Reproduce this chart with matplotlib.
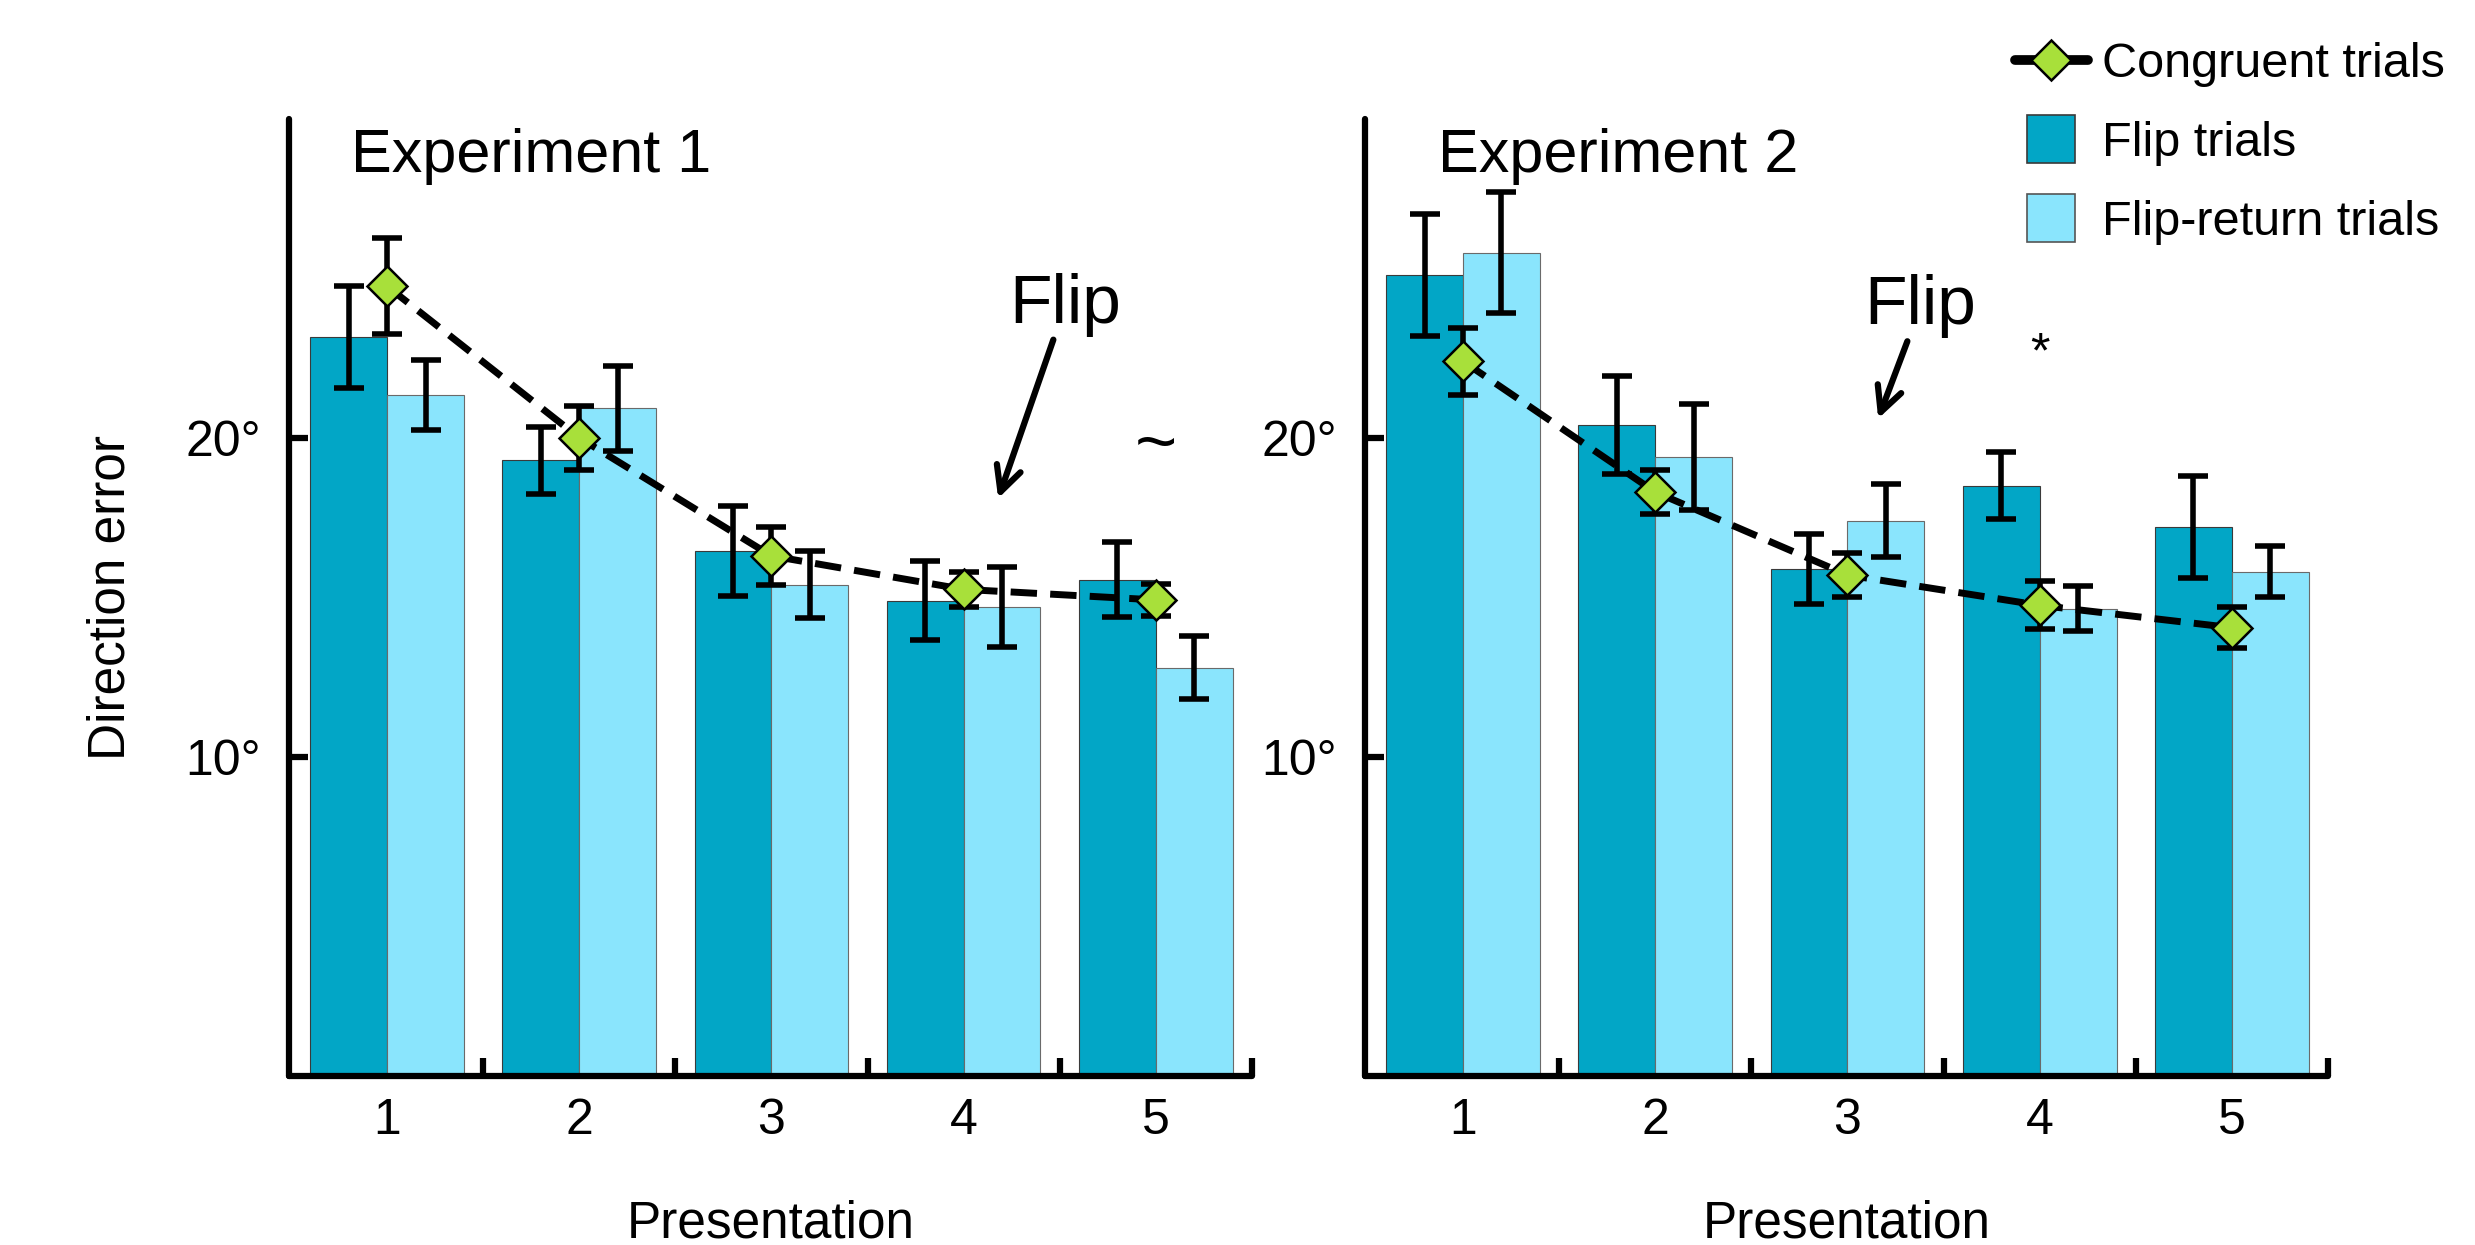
import numpy as np
import matplotlib
matplotlib.use("Agg")
import matplotlib.pyplot as plt
from matplotlib.lines import Line2D

plt.rcParams['font.family'] = ['Liberation Sans', 'DejaVu Sans']

presentation = [1, 2, 3, 4, 5]

# Experiment 1
exp1_flip = [23.15, 19.3, 16.45, 14.9, 15.55]
exp1_flip_err = [1.6, 1.05, 1.4, 1.25, 1.17]
exp1_return = [21.34, 20.92, 15.4, 14.7, 12.8]
exp1_return_err = [1.1, 1.34, 1.05, 1.25, 1.0]
exp1_congruent = [24.75, 20.0, 16.3, 15.25, 14.92]
exp1_congruent_err = [1.5, 1.0, 0.9, 0.55, 0.5]

# Experiment 2
exp2_flip = [25.1, 20.4, 15.9, 18.5, 17.2]
exp2_flip_err = [1.9, 1.55, 1.1, 1.05, 1.6]
exp2_return = [25.8, 19.4, 17.4, 14.65, 15.8]
exp2_return_err = [1.9, 1.65, 1.15, 0.7, 0.8]
exp2_congruent = [22.4, 18.3, 15.7, 14.75, 14.05]
exp2_congruent_err = [1.05, 0.7, 0.7, 0.75, 0.65]

dark = '#02a6c6'
light = '#8ae5fd'
green = '#a8e03a'
w = 0.4
elw = 4.0

fig = plt.figure(figsize=(24.75, 12.45), dpi=100)
ax1 = fig.add_axes([0.1168, 0.1357, 0.3890, 0.769])
ax2 = fig.add_axes([0.5515, 0.1357, 0.3891, 0.769])

panels = [
    (ax1, exp1_flip, exp1_flip_err, exp1_return, exp1_return_err, exp1_congruent, exp1_congruent_err, "Experiment 1"),
    (ax2, exp2_flip, exp2_flip_err, exp2_return, exp2_return_err, exp2_congruent, exp2_congruent_err, "Experiment 2"),
]

x = np.array(presentation)
for ax, fl, fle, rt, rte, cg, cge, title in panels:
    ax.bar(x - w / 2, fl, w, color=dark, edgecolor='#3a3a3a', linewidth=0.8, zorder=1)
    ax.bar(x + w / 2, rt, w, color=light, edgecolor='#6a6a6a', linewidth=0.8, zorder=1)
    ax.errorbar(x - w / 2, fl, yerr=fle, fmt='none', ecolor='black', elinewidth=elw, capsize=11, capthick=elw, zorder=2)
    ax.errorbar(x + w / 2, rt, yerr=rte, fmt='none', ecolor='black', elinewidth=elw, capsize=11, capthick=elw, zorder=2)
    ax.plot(x, cg, color='black', lw=5.0, dashes=(3.8, 1.9), zorder=3)
    ax.errorbar(x, cg, yerr=cge, fmt='none', ecolor='black', elinewidth=elw, capsize=11, capthick=elw, zorder=3)
    ax.plot(x, cg, linestyle='none', marker='D', markersize=20, markerfacecolor=green,
            markeredgecolor='black', markeredgewidth=1.8, zorder=4)

    ax.set_xlim(0.49, 5.5)
    ax.set_ylim(0, 30)
    for s in ['top', 'right']:
        ax.spines[s].set_visible(False)
    for s in ['left', 'bottom']:
        ax.spines[s].set_linewidth(4.5)
        ax.spines[s].set_capstyle('round')
    ax.set_yticks([10, 20])
    ax.set_yticklabels(['10°', '20°'])
    ax.tick_params(axis='y', direction='in', length=14, width=4.5, labelsize=36, pad=20)
    ax.set_xticks(presentation)
    ax.set_xticks([1.5, 2.5, 3.5, 4.5, 5.5], minor=True)
    ax.tick_params(axis='x', which='major', length=0, labelsize=36, pad=16)
    ax.tick_params(axis='x', which='minor', direction='in', length=13, width=4.5)
    ax.set_xlabel("Presentation", fontsize=37, labelpad=40)
    ax.text(0.064 if ax is ax1 else 0.076, 0.944, title, transform=ax.transAxes,
            fontsize=44, va='baseline', ha='left')

ax1.set_ylabel("Direction error", fontsize=37, labelpad=36)

# annotations
arrow = dict(arrowstyle='->', lw=4.5, color='black', mutation_scale=45, shrinkA=0, shrinkB=0)
ax1.annotate("Flip", xy=(4.18, 18.1), xytext=(4.53, 23.6), fontsize=50, ha='center', va='baseline',
             arrowprops=arrow)
ax1.text(5.0, 19.7, "~", fontsize=52, ha='center', va='center')
ax2.annotate("Flip", xy=(3.16, 20.6), xytext=(3.38, 23.55), fontsize=50, ha='center', va='baseline',
             arrowprops=arrow)
ax2.text(4.0, 22.6, "*", fontsize=36, ha='center', va='center')

handles = [
    Line2D([], [], color='black', lw=7, solid_capstyle='round', marker='D', markersize=20,
           markerfacecolor=green, markeredgecolor='black', markeredgewidth=1.8),
    Line2D([], [], linestyle='none', marker='s', markersize=35, markerfacecolor=dark,
           markeredgecolor='#3a3a3a', markeredgewidth=1.2),
    Line2D([], [], linestyle='none', marker='s', markersize=35, markerfacecolor=light,
           markeredgecolor='#555555', markeredgewidth=1.2),
]
labels = ["Congruent trials", "Flip trials", "Flip-return trials"]
fig.legend(handles, labels, loc='upper left', bbox_to_anchor=(0.814, 0.966), frameon=False,
           fontsize=35, handlelength=1.5, handletextpad=0.3, labelspacing=0.7, borderpad=0,
           borderaxespad=0)

fig.savefig("out.png", dpi=100)
